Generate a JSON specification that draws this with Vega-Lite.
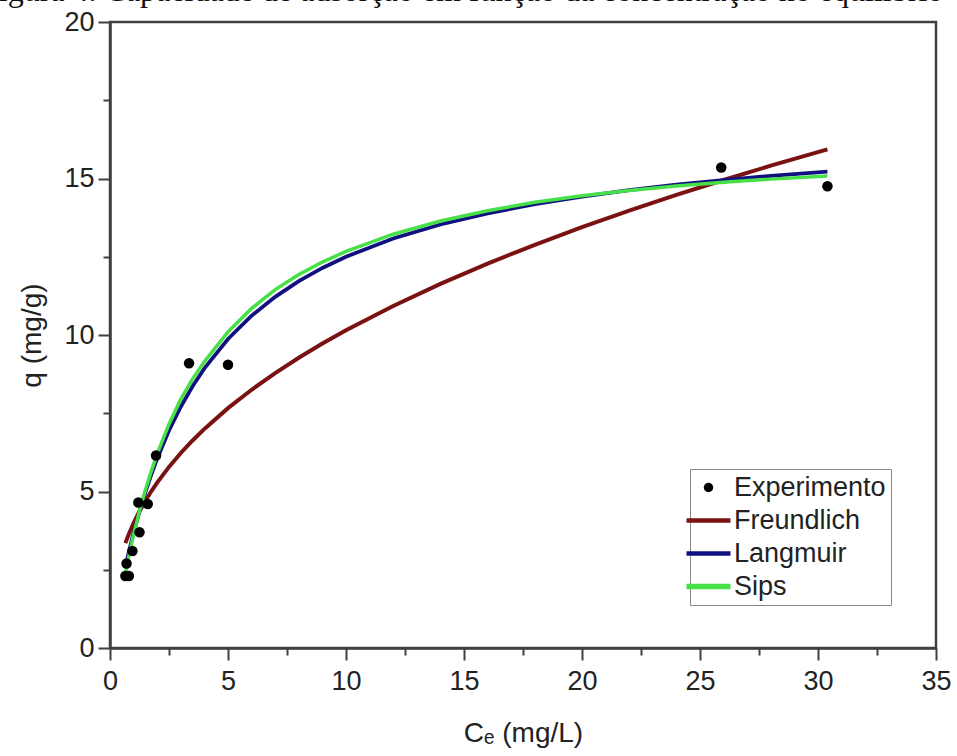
{
  "$schema": "https://vega.github.io/schema/vega-lite/v6.json",
  "width": 826,
  "height": 626,
  "autosize": {"type": "none"},
  "padding": {"left": 110, "top": 22, "right": 21, "bottom": 108},
  "background": "white",
  "title": {
    "text": "Figura 4. Capacidade de adsorção em função da concentração no equilíbrio",
    "anchor": "start",
    "frame": "group",
    "dx": -129,
    "dy": 25,
    "offset": 0,
    "baseline": "alphabetic",
    "font": "Liberation Serif",
    "fontSize": 32,
    "fontWeight": "normal",
    "color": "#111"
  },
  "config": {
    "view": {"stroke": "#404040", "strokeWidth": 2.5},
    "axis": {
      "grid": false,
      "domainColor": "#404040",
      "domainWidth": 2.5,
      "tickColor": "#404040",
      "tickWidth": 2,
      "labelFont": "Liberation Sans",
      "labelFontSize": 27,
      "labelColor": "#222",
      "titleFont": "Liberation Sans",
      "titleFontSize": 28,
      "titleFontWeight": "normal",
      "titleColor": "#222"
    }
  },
  "datasets": {
    "exp": [
      {"Ce": 0.65, "q": 2.3, "series": "Experimento"},
      {"Ce": 0.8, "q": 2.3, "series": "Experimento"},
      {"Ce": 0.7, "q": 2.7, "series": "Experimento"},
      {"Ce": 0.95, "q": 3.1, "series": "Experimento"},
      {"Ce": 1.25, "q": 3.7, "series": "Experimento"},
      {"Ce": 1.2, "q": 4.65, "series": "Experimento"},
      {"Ce": 1.6, "q": 4.6, "series": "Experimento"},
      {"Ce": 1.95, "q": 6.15, "series": "Experimento"},
      {"Ce": 3.35, "q": 9.1, "series": "Experimento"},
      {"Ce": 5.0, "q": 9.05, "series": "Experimento"},
      {"Ce": 25.9, "q": 15.35, "series": "Experimento"},
      {"Ce": 30.4, "q": 14.75, "series": "Experimento"}
    ],
    "curves": [
      {"Ce": 0.65, "q": 3.35, "series": "Freundlich"},
      {"Ce": 0.8, "q": 3.645, "series": "Freundlich"},
      {"Ce": 1.0, "q": 3.99, "series": "Freundlich"},
      {"Ce": 1.25, "q": 4.368, "series": "Freundlich"},
      {"Ce": 1.5, "q": 4.703, "series": "Freundlich"},
      {"Ce": 1.75, "q": 5.006, "series": "Freundlich"},
      {"Ce": 2.0, "q": 5.285, "series": "Freundlich"},
      {"Ce": 2.5, "q": 5.786, "series": "Freundlich"},
      {"Ce": 3.0, "q": 6.23, "series": "Freundlich"},
      {"Ce": 3.5, "q": 6.631, "series": "Freundlich"},
      {"Ce": 4.0, "q": 7.0, "series": "Freundlich"},
      {"Ce": 5.0, "q": 7.663, "series": "Freundlich"},
      {"Ce": 6.0, "q": 8.251, "series": "Freundlich"},
      {"Ce": 7.0, "q": 8.783, "series": "Freundlich"},
      {"Ce": 8.0, "q": 9.272, "series": "Freundlich"},
      {"Ce": 9.0, "q": 9.726, "series": "Freundlich"},
      {"Ce": 10.0, "q": 10.15, "series": "Freundlich"},
      {"Ce": 12.0, "q": 10.929, "series": "Freundlich"},
      {"Ce": 14.0, "q": 11.634, "series": "Freundlich"},
      {"Ce": 16.0, "q": 12.282, "series": "Freundlich"},
      {"Ce": 18.0, "q": 12.882, "series": "Freundlich"},
      {"Ce": 20.0, "q": 13.444, "series": "Freundlich"},
      {"Ce": 22.0, "q": 13.973, "series": "Freundlich"},
      {"Ce": 24.0, "q": 14.475, "series": "Freundlich"},
      {"Ce": 26.0, "q": 14.953, "series": "Freundlich"},
      {"Ce": 28.0, "q": 15.409, "series": "Freundlich"},
      {"Ce": 30.4, "q": 15.931, "series": "Freundlich"},
      {"Ce": 0.65, "q": 2.587, "series": "Langmuir"},
      {"Ce": 0.8, "q": 3.076, "series": "Langmuir"},
      {"Ce": 1.0, "q": 3.68, "series": "Langmuir"},
      {"Ce": 1.25, "q": 4.364, "series": "Langmuir"},
      {"Ce": 1.5, "q": 4.981, "series": "Langmuir"},
      {"Ce": 1.75, "q": 5.542, "series": "Langmuir"},
      {"Ce": 2.0, "q": 6.052, "series": "Langmuir"},
      {"Ce": 2.5, "q": 6.948, "series": "Langmuir"},
      {"Ce": 3.0, "q": 7.709, "series": "Langmuir"},
      {"Ce": 3.5, "q": 8.363, "series": "Langmuir"},
      {"Ce": 4.0, "q": 8.932, "series": "Langmuir"},
      {"Ce": 5.0, "q": 9.871, "series": "Langmuir"},
      {"Ce": 6.0, "q": 10.616, "series": "Langmuir"},
      {"Ce": 7.0, "q": 11.22, "series": "Langmuir"},
      {"Ce": 8.0, "q": 11.72, "series": "Langmuir"},
      {"Ce": 9.0, "q": 12.141, "series": "Langmuir"},
      {"Ce": 10.0, "q": 12.501, "series": "Langmuir"},
      {"Ce": 12.0, "q": 13.082, "series": "Langmuir"},
      {"Ce": 14.0, "q": 13.531, "series": "Langmuir"},
      {"Ce": 16.0, "q": 13.888, "series": "Langmuir"},
      {"Ce": 18.0, "q": 14.179, "series": "Langmuir"},
      {"Ce": 20.0, "q": 14.421, "series": "Langmuir"},
      {"Ce": 22.0, "q": 14.626, "series": "Langmuir"},
      {"Ce": 24.0, "q": 14.801, "series": "Langmuir"},
      {"Ce": 26.0, "q": 14.952, "series": "Langmuir"},
      {"Ce": 28.0, "q": 15.084, "series": "Langmuir"},
      {"Ce": 30.4, "q": 15.222, "series": "Langmuir"},
      {"Ce": 0.65, "q": 2.35, "series": "Sips"},
      {"Ce": 0.8, "q": 2.95, "series": "Sips"},
      {"Ce": 1.0, "q": 3.62, "series": "Sips"},
      {"Ce": 1.25, "q": 4.38, "series": "Sips"},
      {"Ce": 1.5, "q": 5.05, "series": "Sips"},
      {"Ce": 1.75, "q": 5.65, "series": "Sips"},
      {"Ce": 2.0, "q": 6.2, "series": "Sips"},
      {"Ce": 2.5, "q": 7.15, "series": "Sips"},
      {"Ce": 3.0, "q": 7.95, "series": "Sips"},
      {"Ce": 3.5, "q": 8.6, "series": "Sips"},
      {"Ce": 4.0, "q": 9.15, "series": "Sips"},
      {"Ce": 5.0, "q": 10.1, "series": "Sips"},
      {"Ce": 6.0, "q": 10.85, "series": "Sips"},
      {"Ce": 7.0, "q": 11.45, "series": "Sips"},
      {"Ce": 8.0, "q": 11.93, "series": "Sips"},
      {"Ce": 9.0, "q": 12.33, "series": "Sips"},
      {"Ce": 10.0, "q": 12.67, "series": "Sips"},
      {"Ce": 12.0, "q": 13.22, "series": "Sips"},
      {"Ce": 14.0, "q": 13.64, "series": "Sips"},
      {"Ce": 16.0, "q": 13.97, "series": "Sips"},
      {"Ce": 18.0, "q": 14.24, "series": "Sips"},
      {"Ce": 20.0, "q": 14.45, "series": "Sips"},
      {"Ce": 22.0, "q": 14.62, "series": "Sips"},
      {"Ce": 24.0, "q": 14.76, "series": "Sips"},
      {"Ce": 26.0, "q": 14.88, "series": "Sips"},
      {"Ce": 28.0, "q": 14.98, "series": "Sips"},
      {"Ce": 30.4, "q": 15.08, "series": "Sips"}
    ]
  },
  "encoding": {
    "x": {
      "field": "Ce",
      "type": "quantitative",
      "scale": {"domain": [0, 35], "nice": false, "zero": false},
      "axis": {
        "title": "Cₑ (mg/L)",
        "values": [0, 2.5, 5, 7.5, 10, 12.5, 15, 17.5, 20, 22.5, 25, 27.5, 30, 32.5, 35],
        "labelExpr": "datum.value % 5 === 0 ? datum.label : ''",
        "tickSize": {"condition": {"test": "datum.value % 5 === 0", "value": 12}, "value": 7},
        "labelPadding": 8,
        "titlePadding": 25,
        "labelFlush": false
      }
    },
    "y": {
      "field": "q",
      "type": "quantitative",
      "scale": {"domain": [0, 20], "nice": false},
      "axis": {
        "title": "q (mg/g)",
        "values": [0, 2.5, 5, 7.5, 10, 12.5, 15, 17.5, 20],
        "labelExpr": "datum.value % 5 === 0 ? datum.label : ''",
        "tickSize": {"condition": {"test": "datum.value % 5 === 0", "value": 12}, "value": 7},
        "labelPadding": 4,
        "titlePadding": 17,
        "labelFlush": false
      }
    },
    "color": {
      "field": "series",
      "type": "nominal",
      "scale": {
        "domain": ["Experimento", "Freundlich", "Langmuir", "Sips"],
        "range": ["#000000", "#7a1212", "#101080", "#48e048"]
      },
      "legend": {
        "title": null,
        "orient": "none",
        "legendX": 580,
        "legendY": 447,
        "padding": 5,
        "strokeColor": "#888",
        "fillColor": "white",
        "labelFont": "Liberation Sans",
        "labelFontSize": 27,
        "labelColor": "#222",
        "labelOffset": 12,
        "rowPadding": 5,
        "symbolSize": 1936,
        "encode": {
          "symbols": {
            "update": {
              "shape": {"signal": "datum.value === 'Experimento' ? 'circle' : 'stroke'"},
              "size": {"signal": "datum.value === 'Experimento' ? 90 : 1936"},
              "fill": {"signal": "datum.value === 'Experimento' ? '#000' : 'transparent'"},
              "stroke": {"scale": "color", "field": "value"},
              "strokeWidth": {"signal": "datum.value === 'Experimento' ? 0 : (datum.value === 'Sips' ? 5.5 : 4.5)"},
              "opacity": {"value": 1}
            }
          }
        }
      }
    }
  },
  "layer": [
    {
      "data": {"name": "curves"},
      "mark": {"type": "line", "clip": true},
      "encoding": {
        "strokeWidth": {
          "field": "series",
          "type": "nominal",
          "scale": {"domain": ["Freundlich", "Langmuir", "Sips"], "range": [4, 3.5, 5.5]},
          "legend": null
        }
      }
    },
    {
      "data": {"name": "exp"},
      "mark": {"type": "point", "filled": true, "size": 110, "opacity": 1}
    }
  ]
}
